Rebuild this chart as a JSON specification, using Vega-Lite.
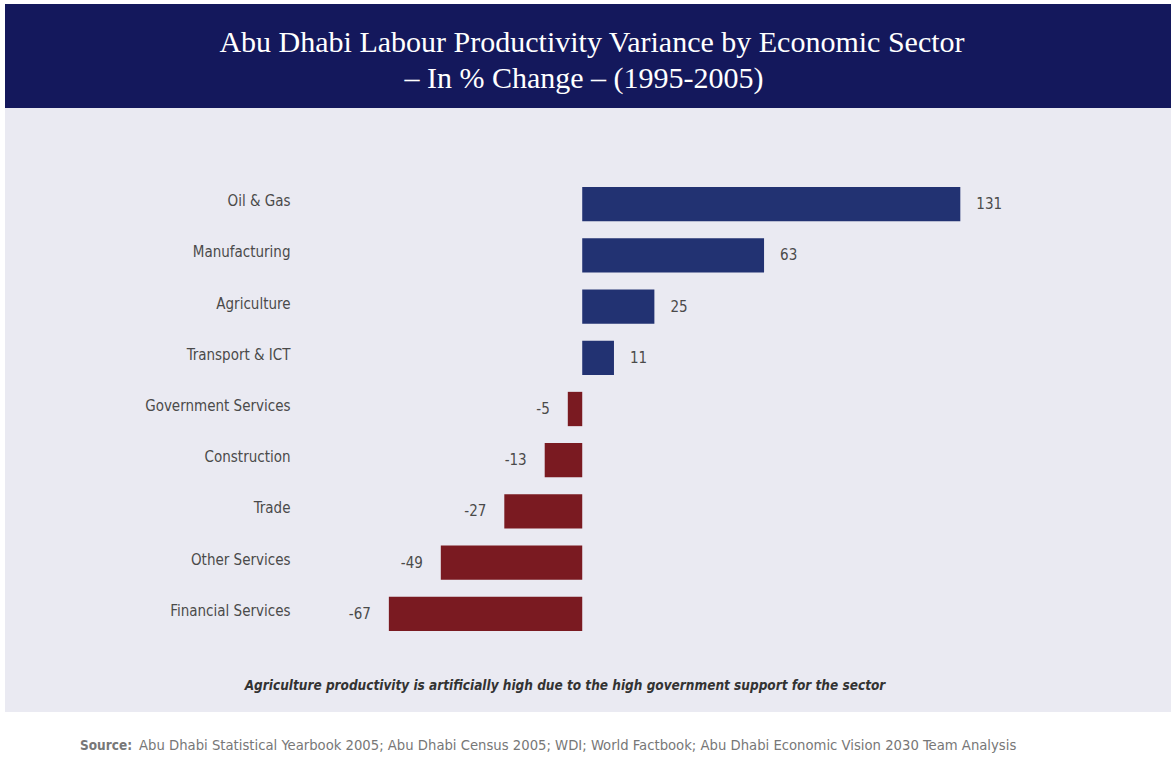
{
  "$schema": "https://vega.github.io/schema/vega-lite/v6.json",
  "background": "#ffffff",
  "padding": {"left": 5, "top": 4, "right": 0, "bottom": 0},
  "spacing": 0,
  "config": {"view": {"stroke": null}, "concat": {"spacing": 0}},
  "datasets": {
    "sectors": [
      {"sector": "Oil & Gas", "value": 131},
      {"sector": "Manufacturing", "value": 63},
      {"sector": "Agriculture", "value": 25},
      {"sector": "Transport & ICT", "value": 11},
      {"sector": "Government Services", "value": -5},
      {"sector": "Construction", "value": -13},
      {"sector": "Trade", "value": -27},
      {"sector": "Other Services", "value": -49},
      {"sector": "Financial Services", "value": -67}
    ],
    "blank": [{}]
  },
  "vconcat": [
    {
      "width": 1166,
      "height": 104,
      "view": {"fill": "#14185C", "stroke": null},
      "data": {"name": "blank"},
      "layer": [
        {
          "mark": {"type": "text", "font": "Liberation Serif", "fontSize": 30, "color": "#ffffff", "baseline": "alphabetic", "align": "center", "dx": 4, "dy": -4},
          "encoding": {"text": {"value": "Abu Dhabi Labour Productivity Variance by Economic Sector"}}
        },
        {
          "mark": {"type": "text", "font": "Liberation Serif", "fontSize": 30, "color": "#ffffff", "baseline": "alphabetic", "align": "center", "dx": -4, "dy": 32},
          "encoding": {"text": {"value": "– In % Change – (1995-2005)"}}
        }
      ]
    },
    {
      "width": 1166,
      "height": 552,
      "view": {"fill": "#EAEAF2", "stroke": null},
      "data": {"name": "sectors"},
      "encoding": {
        "y": {
          "field": "sector",
          "type": "nominal",
          "sort": null,
          "scale": {"range": [79, 523], "paddingInner": 0.33, "paddingOuter": 0},
          "axis": {
            "orient": "left",
            "offset": -285,
            "domain": false,
            "ticks": false,
            "grid": false,
            "title": null,
            "labelPadding": 0,
            "labelOffset": -3,
            "labelFont": "DejaVu Sans Condensed",
            "labelFontSize": 15,
            "labelColor": "#4a4a4a",
            "labelLimit": 300
          }
        },
        "x": {
          "field": "value",
          "type": "quantitative",
          "scale": {"domain": [-200, 204], "nice": false, "zero": false},
          "axis": null
        }
      },
      "layer": [
        {
          "mark": {"type": "bar"},
          "encoding": {
            "x2": {"datum": 0},
            "color": {
              "condition": {"test": "datum.value >= 0", "value": "#223272"},
              "value": "#7A1A21"
            }
          }
        },
        {
          "transform": [{"filter": "datum.value >= 0"}],
          "mark": {"type": "text", "align": "left", "dx": 16, "font": "DejaVu Sans Condensed", "fontSize": 15, "color": "#4a4a4a"},
          "encoding": {"text": {"field": "value", "type": "nominal"}}
        },
        {
          "transform": [{"filter": "datum.value < 0"}],
          "mark": {"type": "text", "align": "right", "dx": -18, "font": "DejaVu Sans Condensed", "fontSize": 15, "color": "#4a4a4a"},
          "encoding": {"text": {"field": "value", "type": "nominal"}}
        }
      ]
    },
    {
      "width": 1166,
      "height": 52,
      "view": {"fill": "#EAEAF2", "stroke": null},
      "data": {"name": "blank"},
      "mark": {"type": "text", "align": "center", "dx": -23, "font": "DejaVu Sans Condensed", "fontSize": 13.5, "fontWeight": "bold", "fontStyle": "italic", "color": "#333333"},
      "encoding": {"text": {"value": "Agriculture productivity is artificially high due to the high government support for the sector"}}
    },
    {
      "width": 1166,
      "height": 59,
      "view": {"fill": "#ffffff", "stroke": null},
      "data": {"name": "blank"},
      "layer": [
        {
          "mark": {"type": "text", "align": "left", "dx": -508, "dy": 4, "font": "DejaVu Sans Condensed", "fontSize": 13.5, "fontWeight": "bold", "color": "#777777"},
          "encoding": {"text": {"value": "Source:"}}
        },
        {
          "mark": {"type": "text", "align": "left", "dx": -449, "dy": 4, "font": "DejaVu Sans Condensed", "fontSize": 14.7, "color": "#777777"},
          "encoding": {"text": {"value": "Abu Dhabi Statistical Yearbook 2005; Abu Dhabi Census 2005; WDI; World Factbook; Abu Dhabi Economic Vision 2030 Team Analysis"}}
        }
      ]
    }
  ]
}
